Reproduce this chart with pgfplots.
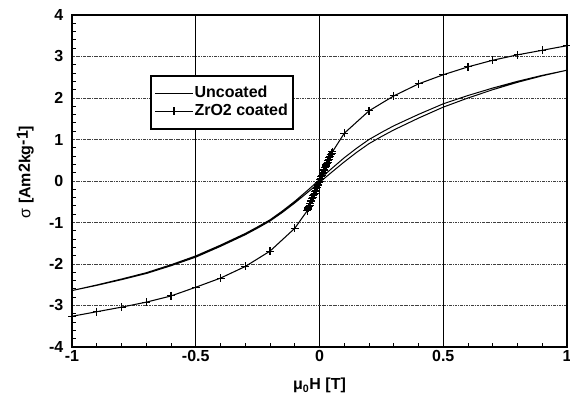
\documentclass[border=0pt]{standalone}
\usepackage{fontspec}
\setmainfont{Liberation Sans}
\usepackage{pgfplots}
\pgfplotsset{compat=1.18}

\newcommand{\lblfont}{\bfseries\fontsize{12}{13}\selectfont}

\begin{document}
\begin{tikzpicture}
\begin{axis}[
  scale only axis, width=371.25pt, height=249pt,
  xmin=-1, xmax=1, ymin=-4, ymax=4,
  xtick={-1,-0.5,0,0.5,1}, ytick={-4,-3,...,4},
  minor x tick num=4, minor y tick num=4,
  tick align=inside, xtick pos=bottom, ytick pos=left,
  major tick length=0pt, minor tick length=3pt,
  every minor tick/.style={black, line width=0.7pt},
  axis line style={line width=1.2pt},
  xmajorgrids, ymajorgrids,
  x grid style={black, line width=0.6pt},
  y grid style={black!75, line width=0.6pt, dash pattern=on 2pt off 0.7pt on 0.7pt off 0.7pt},
  tick label style={font=\lblfont},
  /pgf/number format/assume math mode=true,
  yticklabel style={xshift=-3pt},
  xticklabel style={yshift=1pt},
  xlabel={μ\textsubscript{0}H [T]},
  ylabel={{\mdseries σ} [Am\raisebox{0.5pt}{2}kg\raisebox{2pt}{-1}]},
  label style={font=\lblfont},
  xlabel style={at={(rel axis cs:0.5,-0.1165)}, anchor=center},
  ylabel style={at={(rel axis cs:-0.0943,0.527)}, anchor=center},
  legend style={at={(rel axis cs:0.1576,0.8193)}, anchor=north west,
    draw=black, line width=1.2pt, fill=white, font=\lblfont,
    inner xsep=3pt, inner ysep=7pt, row sep=0pt,
    nodes={inner sep=1pt, text height=8.5pt, text depth=2.5pt}},
  legend cell align=left,
  legend image code/.code={\draw[mark repeat=2,mark phase=2,#1]
    plot coordinates {(0pt,0pt) (14pt,0pt) (28pt,0pt)};},
]
% uncoated: hysteresis loop, descending branch then ascending branch
\addplot[black, line width=0.75pt] coordinates {
 (1,2.67) (0.9,2.546) (0.8,2.402) (0.7,2.24) (0.6,2.06) (0.5,1.86)
 (0.4,1.605) (0.3,1.33) (0.25,1.17) (0.2,1.00) (0.15,0.79) (0.1,0.56)
 (0.05,0.305) (0.02,0.145) (0,0.035) (-0.02,-0.075) (-0.05,-0.235) (-0.1,-0.49)
 (-0.15,-0.722) (-0.2,-0.935) (-0.25,-1.105) (-0.3,-1.265) (-0.4,-1.545)
 (-0.5,-1.805) (-0.6,-2.018) (-0.7,-2.21) (-0.8,-2.362) (-0.9,-2.505) (-1,-2.64)
 (-0.9,-2.515) (-0.8,-2.378) (-0.7,-2.23) (-0.6,-2.042) (-0.5,-1.835)
 (-0.4,-1.575) (-0.3,-1.295) (-0.25,-1.135) (-0.2,-0.965) (-0.15,-0.758) (-0.1,-0.53)
 (-0.05,-0.285) (-0.02,-0.135) (0,-0.035) (0.02,0.065) (0.05,0.215) (0.1,0.46)
 (0.15,0.69) (0.2,0.90) (0.25,1.07) (0.3,1.23) (0.4,1.515)
 (0.5,1.78) (0.6,2.00) (0.7,2.20) (0.8,2.378) (0.9,2.534) (1,2.67)
};
\addlegendentry{Uncoated}
% ZrO2 coated
\addplot[black, line width=0.8pt, mark=+, mark size=3pt] coordinates {
 (-1,-3.26) (-0.9,-3.15) (-0.8,-3.04) (-0.7,-2.92) (-0.6,-2.77) (-0.5,-2.56)
 (-0.4,-2.34) (-0.3,-2.06) (-0.2,-1.69) (-0.1,-1.14)
 (-0.05,-0.72) (-0.0475,-0.685) (-0.045,-0.65) (-0.0425,-0.615) (-0.04,-0.58)
 (-0.0375,-0.54) (-0.035,-0.50) (-0.0325,-0.465) (-0.03,-0.43) (-0.0275,-0.395)
 (-0.025,-0.36) (-0.0225,-0.325) (-0.02,-0.29) (-0.0175,-0.255) (-0.015,-0.22)
 (-0.0125,-0.185) (-0.01,-0.15) (-0.0075,-0.115) (-0.005,-0.08) (-0.0025,-0.045)
 (0,-0.01) (0.0025,0.03) (0.005,0.07) (0.0075,0.105) (0.01,0.14) (0.0125,0.175)
 (0.015,0.21) (0.0175,0.245) (0.02,0.28) (0.0225,0.315) (0.025,0.35)
 (0.0275,0.385) (0.03,0.42) (0.0325,0.455) (0.035,0.49) (0.0375,0.525)
 (0.04,0.56) (0.0425,0.595) (0.045,0.63) (0.0485,0.665) (0.052,0.70)
 (0.1,1.15) (0.2,1.69) (0.3,2.05) (0.4,2.34) (0.5,2.56) (0.6,2.75)
 (0.7,2.91) (0.8,3.04) (0.9,3.15) (1,3.26)
};
\addlegendentry{ZrO2 coated}
\end{axis}
\pgfresetboundingbox
\path[use as bounding box] ([shift={(-54pt,-42pt)}]current axis.south west)
  rectangle ([shift={(2.25pt,11.25pt)}]current axis.north east);
\end{tikzpicture}
\end{document}
